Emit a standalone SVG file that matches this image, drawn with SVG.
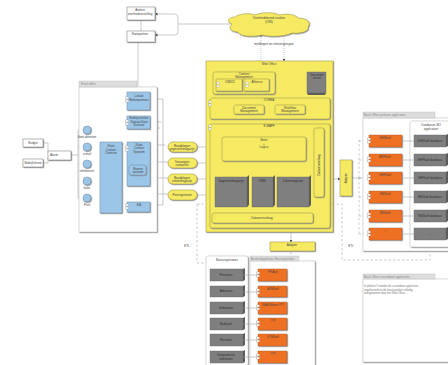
<svg xmlns="http://www.w3.org/2000/svg" width="448" height="365" viewBox="0 0 448 365">
<style>
text{font-family:"Liberation Sans",Arial,sans-serif;font-size:3px;fill:#444;text-anchor:middle}
.l{text-anchor:start}
.t{font-size:2.7px;fill:#777}
.w{fill:#fff;stroke:#777;stroke-width:.5;filter:url(#sh)}
.c{fill:#fff;stroke:#bbb;stroke-width:.5;filter:url(#sh)}
.tab{fill:#ddd;stroke:#bbb;stroke-width:.4}
.tab-t{fill:#888}
.b{fill:#9cc6e8;stroke:#6f8fab;stroke-width:.5;filter:url(#sh)}
.y{fill:#f6ea62;stroke:#9a9440;stroke-width:.5;filter:url(#sh)}
.o{fill:#ee6f22;stroke:#b5602c;stroke-width:.4;filter:url(#sh)}
.g{fill:#7f7f7f;stroke:#666;stroke-width:.4}
.gs{fill:#5c5c5c}
.gt{fill:#2f2f2f}
.ln{fill:none;stroke:#a5a5a5;stroke-width:.6}
.ar{fill:none;stroke:#a5a5a5;stroke-width:.6;marker-end:url(#a)}
.d{fill:none;stroke:#aaa;stroke-width:.6;stroke-dasharray:2.5 2}
.k{fill:#fff;stroke:#888;stroke-width:.3}
</style>
<defs>
<filter id="sh" x="-20%" y="-20%" width="140%" height="140%"><feDropShadow dx=".7" dy=".7" stdDeviation=".3" flood-color="#888"/></filter>
<g id="cmp"><rect x="-1.5" y="0" width="3" height="2" class="k"/><rect x="-1.5" y="3" width="3" height="2" class="k"/></g>
<marker id="a" markerWidth="3" markerHeight="3" refX="2.5" refY="1.5" orient="auto" markerUnits="userSpaceOnUse"><path d="M0 0L3 1.5L0 3z" fill="#444"/></marker>
</defs>
<g id="connectors">
<path class="ar" d="M178 24V18Q178 14 175 14H155"/>
<path class="ar" d="M178 24V31Q178 35 175 35H155"/>
<path class="ln" d="M178 24H230"/>
<path class="ln" d="M141 20V31M138 42V87"/>
<path class="ar" d="M261 61V34" style="stroke-dasharray:1 1"/>
<path class="ar" d="M284 36V61" style="stroke-dasharray:1 1"/>
<path class="ln" d="M150 99H163V205H150M150 122H161M150 128H160M150 145H165M150 162H168M150 178H168M122 194H168"/>
<path class="ln" d="M197 147H206M197 163H206M197 179H206M197 195H206"/>
<path class="ln" d="M71 155H78M78 130V198"/>
<path class="ar" d="M78 130H83"/><path class="ar" d="M78 147H83"/><path class="ar" d="M78 164H83"/><path class="ar" d="M78 181H83"/><path class="ar" d="M78 198H83"/>
<path class="ln" d="M91 130H127"/>
<path class="ar" d="M91 147L100 143"/><path class="ar" d="M91 164L100 158"/><path class="ar" d="M91 181H100"/><path class="ar" d="M91 198H100"/>
<path class="ar" d="M122 148H127"/><path class="ar" d="M122 207H127"/>
<path class="ln" d="M43 143H48V153M43 163H48V157"/>
<path class="ar" d="M333 179H340"/><path class="ln" d="M352 178H362"/>
<path class="d" d="M359 178V140M359 234V178"/>
<path class="ar" d="M359 141H369" style="stroke-dasharray:2 1.5"/><path class="ar" d="M359 160H369" style="stroke-dasharray:2 1.5"/><path class="ar" d="M359 178H369" style="stroke-dasharray:2 1.5"/><path class="ar" d="M359 197H369" style="stroke-dasharray:2 1.5"/><path class="ar" d="M359 216H369" style="stroke-dasharray:2 1.5"/><path class="ar" d="M359 234H369" style="stroke-dasharray:2 1.5"/>
<path class="d" d="M197 204H342V260H430V247M197 204V263H206M291 252V362"/>
<path class="ar" d="M291 232V242"/>
</g>
<g id="andere"><rect class="w" x="127" y="7" width="28" height="13"/><text x="140" y="11">Andere</text><text x="140" y="14.500">overheidsinstelling</text></g>
<g id="natiepartner"><rect class="w" x="127" y="31" width="28" height="11"/><text x="140" y="34.500">Natiepartner</text></g>
<g id="budget"><rect class="w" x="23" y="139" width="20" height="8"/><text x="33" y="144">Budget</text></g>
<g id="bedrijfsleven"><rect class="w" x="23" y="159" width="20" height="8"/><text x="33" y="164">Bedrijfsleven</text></g>
<g id="alarm"><rect class="w" x="48" y="151" width="23" height="9"/><text x="54" y="156">Alarm</text></g>
<g id="front-office">
<rect class="c" x="79" y="87" width="78" height="145"/><rect class="tab" x="79" y="81" width="58" height="6"/><text class="l tab-t" x="81" y="85.300">Front office</text>
</g>
<g id="lokale"><rect class="b" x="127" y="92" width="23" height="18"/><use href="#cmp" x="127" y="97"/><text x="139" y="97">Lokale</text><text x="139" y="100.500">Rekenpartners</text></g>
<g id="digitaal"><rect class="b" x="127" y="116" width="23" height="13"/><use href="#cmp" x="127" y="120"/><text x="139" y="119">Bedrijvenloket</text><text x="139" y="122.500">Digitaal klant</text><text x="139" y="126">Dienster</text></g>
<g id="klant-centrum"><rect class="b" x="100" y="142" width="22" height="71"/><text x="111" y="147">Klant</text><text x="111" y="150.500">Contact</text><text x="111" y="154">Centrum</text></g>
<g id="klant-systeem"><rect class="b" x="127" y="142" width="23" height="44"/><use href="#cmp" x="127" y="146"/><text x="139" y="145.500">Klant</text><text x="139" y="149">Contact</text><text x="139" y="152.500">Systeem</text><rect class="b" x="129" y="165" width="17" height="10" rx="2"/><text x="138" y="169.500">Bronne</text><text x="138" y="173">systeem</text></g>
<g id="kib"><rect class="b" x="127" y="202" width="23" height="10"/><use href="#cmp" x="127" y="204"/><text x="139" y="206">KiB</text></g>
<g id="p1"><circle class="b" cx="87" cy="130" r="4"/><text x="87" y="137.500">klant diensten</text></g>
<g id="p2"><circle class="b" cx="87" cy="147" r="4"/><text x="87" y="154.500">e-mail</text></g>
<g id="p3"><circle class="b" cx="87" cy="164" r="4"/><text x="87" y="171.500">telefonisch</text></g>
<g id="p4"><circle class="b" cx="87" cy="181" r="4"/><text x="87" y="188.500">balie</text></g>
<g id="p5"><circle class="b" cx="87" cy="198" r="4"/><text x="87" y="205.500">Post</text></g>
<g id="s1"><rect class="y" x="168" y="142" width="29" height="10" rx="5"/><text x="182" y="146.500">Raadplegen</text><text x="182" y="150">gegevensmagazijn</text></g>
<g id="s2"><rect class="y" x="168" y="158" width="29" height="10" rx="5"/><text x="182" y="162.500">Toevoegen</text><text x="182" y="166">contacten</text></g>
<g id="s3"><rect class="y" x="168" y="174" width="29" height="10" rx="5"/><text x="182" y="178.500">Raadplegen</text><text x="182" y="182">zakenmagazijn</text></g>
<g id="s4"><rect class="y" x="168" y="190" width="29" height="10" rx="5"/><text x="182" y="196">Postregistratie</text></g>
<g id="cloud"><path class="y" d="M232 24C226 22 228 17 235 17C240 13 250 13 255 15C262 12 274 12 279 15C288 13 296 15 298 18C306 18 312 22 308 27C310 32 298 34 292 33C284 37 270 37 262 35C254 37 240 37 238 32C230 32 228 27 232 24Z"/><text x="269" y="19">Overheidsbreed viasfeer</text><text x="269" y="22.500">(OIN)</text></g>
<text x="274" y="45">meldingen en rekeningvragen</text>
<g id="web-office">
<rect class="y" x="206" y="61" width="127" height="171"/><text x="269" y="64.500">Web Office</text>
</g>
<g id="content-mgmt"><rect class="y" x="213" y="72" width="62" height="22" rx="2"/><text x="244" y="75">Content</text><text x="244" y="78.300">Management</text>
<rect class="y" x="216" y="79" width="26" height="12"/><use href="#cmp" x="218" y="82"/><text x="230" y="83">CMS21</text><rect class="y" x="244" y="79" width="25" height="12"/><use href="#cmp" x="247" y="82"/><text x="257" y="83">Alfresco</text></g>
<g id="docserver"><rect class="g" x="307" y="72" width="19" height="21"/><path class="gs" d="M307 93h19l-1 2h-17z"/><text class="gt" x="317" y="76">Document</text><text class="gt" x="317" y="79">server</text></g>
<g id="corba"><rect class="y" x="210" y="98" width="120" height="21" rx="2"/><use href="#cmp" x="210" y="101"/><text x="269" y="101">CORBA</text>
<rect class="y" x="234" y="105" width="30" height="9" rx="1.500"/><text x="249" y="109">Document</text><text x="249" y="112.300">Management</text><rect class="y" x="275" y="105" width="30" height="9" rx="1.500"/><text x="290" y="109">Workflow</text><text x="290" y="112.300">Management</text></g>
<g id="emaff"><rect class="y" x="210" y="124" width="120" height="104" rx="2"/><use href="#cmp" x="210" y="125"/><text x="269" y="127">E-MAFF</text></g>
<g id="regels"><rect class="y" x="222" y="137" width="84" height="24" rx="2"/><text x="264" y="141">Beter</text><text x="264" y="144.500">+</text><text x="264" y="148">Logica</text></g>
<g id="gegevens"><rect class="g" x="215" y="177" width="32" height="30"/><path class="gs" d="M247 177l2-2v30l-2 2z"/><text class="gt" x="231" y="182">Gegevensmagazijn</text></g>
<g id="crm"><rect class="g" x="252" y="177" width="21" height="30"/><path class="gs" d="M273 177l2-2v30l-2 2z"/><text class="gt" x="262" y="182">CRM</text></g>
<g id="zaken"><rect class="g" x="277" y="177" width="32" height="30"/><path class="gs" d="M309 177l2-2v30l-2 2z"/><text class="gt" x="293" y="182">Zakenmagazijn</text></g>
<g id="dataservice"><rect class="y" x="314" y="128" width="10" height="69" rx="2"/><text transform="translate(320 165) rotate(-90)">Dataservicelaag</text></g>
<g id="databron"><rect class="y" x="212" y="213" width="101" height="10" rx="2"/><text x="262" y="219">Dataservicelaag</text></g>
<g id="adapter-b"><rect class="y" x="270" y="242" width="45" height="9"/><text x="292" y="245.500">Adapter</text></g>
<g id="adapter-r"><rect class="y" x="340" y="160" width="12" height="36"/><text transform="translate(347 178) rotate(-90)">Adapter</text></g>
<text x="187" y="247">ETL</text><text x="351" y="247">ETL</text>
<g id="back-primary"><rect class="c" x="363" y="118" width="90" height="133"/><rect class="tab" x="363" y="112" width="72" height="6"/><text class="l tab-t" x="364" y="116">Back Office primaire applicaties</text></g>
<g id="databases"><rect class="c" x="410" y="121" width="45" height="126" rx="2"/><text x="431" y="126">Databases BO</text><text x="431" y="129.500">application</text></g>
<g id="or1"><rect class="o" x="369" y="135" width="33" height="12"/><use href="#cmp" x="369" y="138"/><text x="385" y="139">GHS/kaft</text></g>
<g id="or2"><rect class="o" x="369" y="154" width="33" height="12"/><use href="#cmp" x="369" y="157"/><text x="385" y="158">BRP/kaft</text></g>
<g id="or3"><rect class="o" x="369" y="172" width="33" height="12"/><use href="#cmp" x="369" y="175"/><text x="385" y="176">GHF/kaft</text></g>
<g id="or4"><rect class="o" x="369" y="191" width="33" height="12"/><use href="#cmp" x="369" y="194"/><text x="385" y="195">ENI/kaft</text></g>
<g id="or5"><rect class="o" x="369" y="210" width="33" height="12"/><use href="#cmp" x="369" y="213"/><text x="385" y="214">BIS/kaft</text></g>
<g id="or6"><rect class="o" x="369" y="228" width="33" height="12"/><use href="#cmp" x="369" y="231"/><text x="385" y="232">...</text></g>
<g id="gr1"><rect class="g" x="414" y="135" width="32" height="12"/><path class="gs" d="M446 135l2-1v12l-2 1z"/><text class="gt" x="430" y="141.500">GHS/kaft database</text></g>
<g id="gr2"><rect class="g" x="414" y="154" width="32" height="12"/><path class="gs" d="M446 154l2-1v12l-2 1z"/><text class="gt" x="430" y="160.500">BRP/kaft database</text></g>
<g id="gr3"><rect class="g" x="414" y="172" width="32" height="12"/><path class="gs" d="M446 172l2-1v12l-2 1z"/><text class="gt" x="430" y="178.500">GHF/kaft database</text></g>
<g id="gr4"><rect class="g" x="414" y="191" width="32" height="12"/><path class="gs" d="M446 191l2-1v12l-2 1z"/><text class="gt" x="430" y="197.500">ENI/kaft database</text></g>
<g id="gr5"><rect class="g" x="414" y="210" width="32" height="12"/><path class="gs" d="M446 210l2-1v12l-2 1z"/><text class="gt" x="430" y="216.500">BIS/kaft database</text></g>
<g id="gr6"><rect class="g" x="414" y="228" width="32" height="12"/><path class="gs" d="M446 228l2-1v12l-2 1z"/><text class="gt" x="430" y="234.500">...</text></g>
<path class="ln" d="M402 141H414M402 160H414M402 178H414M402 197H414M402 216H414M402 234H414"/>
<g id="back-secondary"><rect class="c" x="363" y="279" width="90" height="83"/><rect class="tab" x="363" y="274" width="72" height="5"/><text class="l tab-t" x="364" y="278">Back Office secundaire applicaties</text><text class="l t" x="364" y="287">In dukleur II worden de secundaire applicaties</text><text class="l t" x="364" y="290.500">uitgefaseerd en de functionaliteit volledig</text><text class="l t" x="364" y="294">overgenomen door het Web Office</text></g>
<g id="basis-app"><rect class="c" x="250" y="261" width="65" height="108"/><rect class="tab" x="250" y="256" width="49" height="5"/><text class="l tab-t" x="251" y="260" style="font-size:2.700px">Backendapplicaties Basisregistraties</text></g>
<g id="basisreg"><rect class="c" x="206" y="256" width="42" height="113" rx="2"/><text x="227" y="261">Basisregistraties</text></g>
<g id="b1"><rect class="g" x="210" y="269" width="33" height="12"/><path class="gs" d="M243 269l2-1v12l-2 1z"/><text class="gt" x="226" y="275.500">Personen</text></g>
<g id="b2"><rect class="g" x="210" y="286" width="33" height="11"/><path class="gs" d="M243 286l2-1v11l-2 1z"/><text class="gt" x="226" y="292">Adressen</text></g>
<g id="b3"><rect class="g" x="210" y="302" width="33" height="12"/><path class="gs" d="M243 302l2-1v12l-2 1z"/><text class="gt" x="226" y="308.500">Gebouwen</text></g>
<g id="b4"><rect class="g" x="210" y="318" width="33" height="12"/><path class="gs" d="M243 318l2-1v12l-2 1z"/><text class="gt" x="226" y="324.500">Bedrijven</text></g>
<g id="b5"><rect class="g" x="210" y="334" width="33" height="12"/><path class="gs" d="M243 334l2-1v12l-2 1z"/><text class="gt" x="226" y="340.500">Percelen</text></g>
<g id="b6"><rect class="g" x="210" y="351" width="33" height="12"/><path class="gs" d="M243 351l2-1v12l-2 1z"/><text class="gt" x="226" y="356">Geografische</text><text class="gt" x="226" y="359.500">informatie</text></g>
<path class="ln" d="M287 275H243M287 292H243M287 308H243M287 324H243M287 340H243M287 357H243"/>
<g id="o1"><rect class="o" x="258" y="269" width="29" height="12"/><use href="#cmp" x="258" y="272"/><text x="273" y="273">PKAart</text></g>
<g id="o2"><rect class="o" x="258" y="286" width="29" height="11"/><use href="#cmp" x="258" y="289"/><text x="273" y="290">A/W/kaft</text></g>
<g id="o3"><rect class="o" x="258" y="302" width="29" height="12"/><use href="#cmp" x="258" y="305"/><text x="273" y="306">GAB Beheer???</text></g>
<g id="o4"><rect class="o" x="258" y="318" width="29" height="12"/><use href="#cmp" x="258" y="321"/><text x="273" y="322">???</text></g>
<g id="o5"><rect class="o" x="258" y="334" width="29" height="12"/><use href="#cmp" x="258" y="337"/><text x="273" y="338">K/W/kaft</text></g>
<g id="o6"><rect class="o" x="258" y="351" width="29" height="12"/><use href="#cmp" x="258" y="354"/><text x="273" y="355">???</text></g>
</svg>
